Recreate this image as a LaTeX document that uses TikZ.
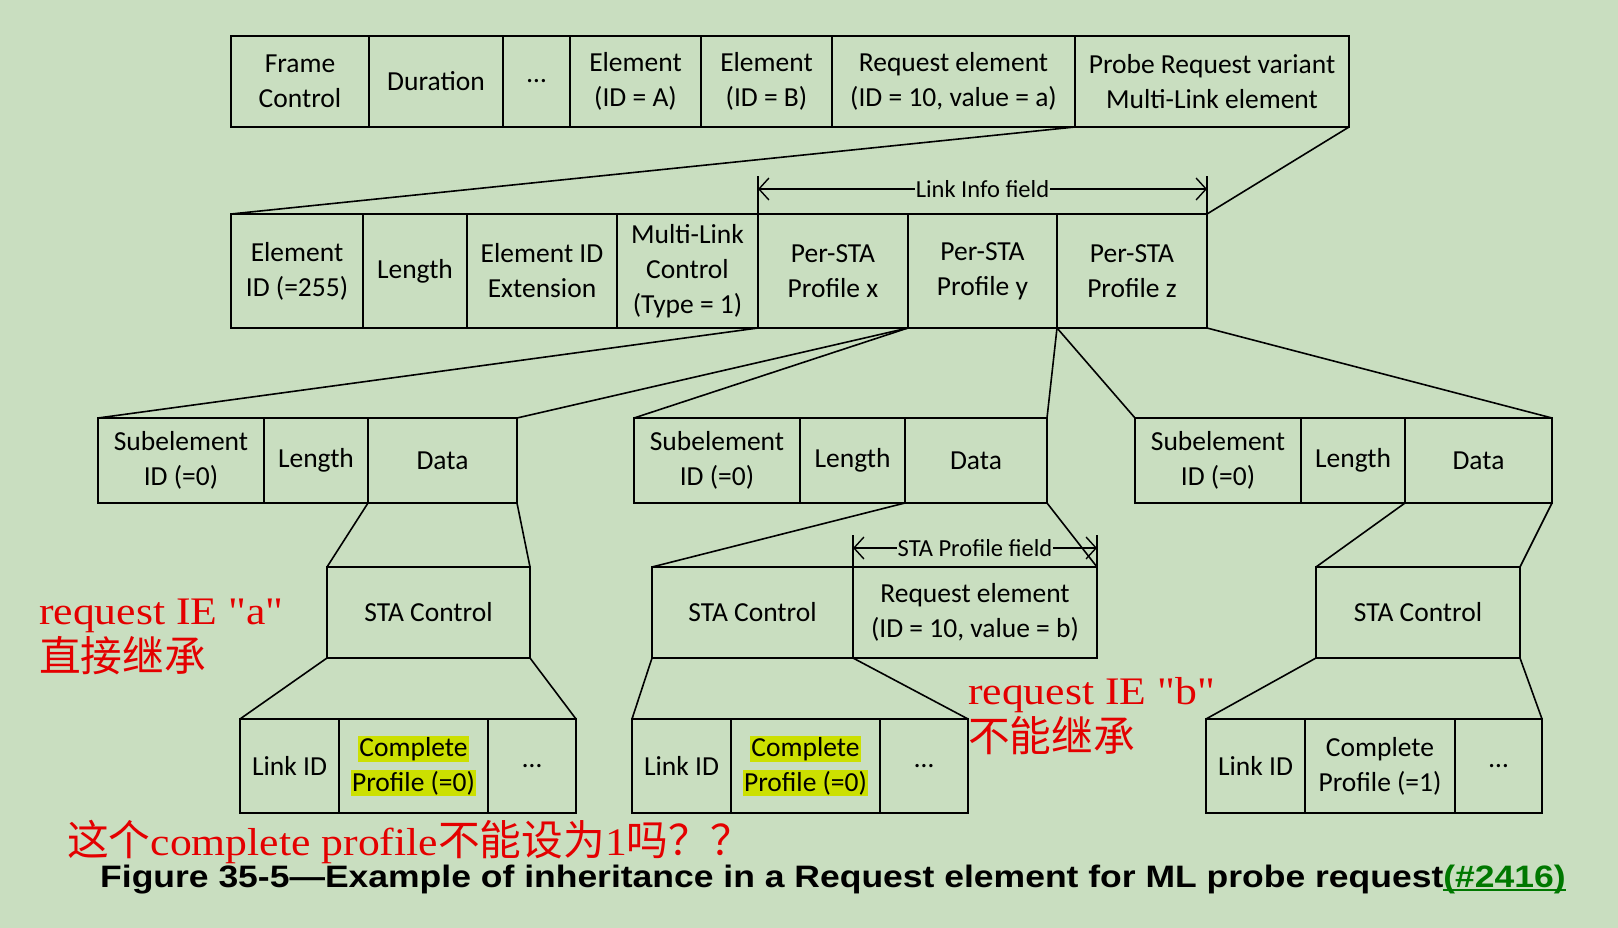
\documentclass[tikz,border=0pt]{standalone}
\usepackage{fontspec}
\usetikzlibrary{positioning,arrows.meta}
\setmainfont{Carlito}
\newfontfamily\notefont[FakeStretch=1.12]{Liberation Serif}
\newfontfamily\cjk[Scale=1.07]{Noto Sans CJK SC}
\newfontfamily\capfont[FakeStretch=1.145]{Liberation Sans}
\definecolor{screengreen}{RGB}{201,222,192}
\definecolor{markyellow}{RGB}{204,224,0}
\definecolor{notered}{RGB}{228,0,0}
\definecolor{refgreen}{RGB}{0,120,0}
\setlength{\fboxsep}{1pt}
\newcommand{\hlbox}[1]{\colorbox{markyellow}{#1}}
\newsavebox{\ulbox}
\newcommand{\ulgreen}[1]{\sbox\ulbox{#1}\rlap{\rule[-4.2pt]{\wd\ulbox}{2.4pt}}\usebox\ulbox}
\tikzstyle{fld} = [
  draw,
  line width=1.6pt,
  outer sep=0pt,
  inner sep=0pt,
  align=center,
  font=\fontsize{27.5}{35}\selectfont,
]
\tikzstyle{toprow} = [fld, minimum height=91pt]
\tikzstyle{mlrow} = [fld, minimum height=114pt]
\tikzstyle{subrow} = [fld, minimum height=85pt]
\tikzstyle{starow} = [fld, minimum height=91pt]
\tikzstyle{linkrow} = [fld, minimum height=94pt]
\tikzstyle{link} = [line width=1.6pt]
\tikzstyle{spanarrow} = [
  line width=1.4pt,
  {Straight Barb[length=10pt,width=22pt]}-{Straight Barb[length=10pt,width=22pt]},
]
\tikzstyle{spanlabel} = [fill=screengreen, inner sep=1pt, font=\fontsize{24.5}{28}\selectfont]
\tikzstyle{note} = [text=notered, inner sep=0pt, align=left, font=\fontsize{39}{47}\notefont]

\begin{document}
\begin{tikzpicture}[x=1pt, y=-1pt]
  \fill[screengreen] (0,0) rectangle (1618,928);
  \useasboundingbox (0,0) rectangle (1618,928);

  % Probe request frame
  \node[toprow, minimum width=138pt, anchor=north west] (fc) at (231,36) {Frame\\Control};
  \node[toprow, minimum width=134pt, right=0pt of fc] (dur) {Duration};
  \node[toprow, minimum width=67pt, right=0pt of dur] (tdots) {…};
  \node[toprow, minimum width=131pt, right=0pt of tdots] (elA) {Element\\(ID = A)};
  \node[toprow, minimum width=131pt, right=0pt of elA] (elB) {Element\\(ID = B)};
  \node[toprow, minimum width=243pt, right=0pt of elB] (reqa) {Request element\\(ID = 10, value = a)};
  \node[toprow, minimum width=274pt, right=0pt of reqa] (mle) {Probe Request variant\\Multi-Link element};

  % Multi-Link element
  \node[mlrow, minimum width=132pt, anchor=north west] (eid) at (231,214) {Element\\ID (=255)};
  \node[mlrow, minimum width=104pt, right=0pt of eid] (elen) {Length};
  \node[mlrow, minimum width=150pt, right=0pt of elen] (eidx) {Element ID\\Extension};
  \node[mlrow, minimum width=141pt, right=0pt of eidx] (mlc) {Multi-Link\\Control\\(Type = 1)};
  \node[mlrow, minimum width=150pt, right=0pt of mlc] (psx) {Per-STA\\Profile x};
  \node[mlrow, minimum width=149pt, right=0pt of psx] (psy) {Per-STA\\Profile y};
  \node[mlrow, minimum width=150pt, right=0pt of psy] (psz) {Per-STA\\Profile z};

  % Link Info field
  \draw[link] (psx.north west) -- ++(0pt,38pt);
  \draw[link] (psz.north east) -- ++(0pt,38pt);
  \draw[spanarrow] ([yshift=25pt]psx.north west) -- node[spanlabel] {Link Info field} ([yshift=25pt]psz.north east);

  % Per-STA profiles
  \node[subrow, minimum width=166pt, anchor=north west] (subx) at (98,418) {Subelement\\ID (=0)};
  \node[subrow, minimum width=104pt, right=0pt of subx] (lenx) {Length};
  \node[subrow, minimum width=149pt, right=0pt of lenx] (datx) {Data};

  \node[subrow, minimum width=166pt, anchor=north west] (suby) at (634,418) {Subelement\\ID (=0)};
  \node[subrow, minimum width=105pt, right=0pt of suby] (leny) {Length};
  \node[subrow, minimum width=142pt, right=0pt of leny] (daty) {Data};

  \node[subrow, minimum width=166pt, anchor=north west] (subz) at (1135,418) {Subelement\\ID (=0)};
  \node[subrow, minimum width=104pt, right=0pt of subz] (lenz) {Length};
  \node[subrow, minimum width=147pt, right=0pt of lenz] (datz) {Data};

  % STA Control
  \node[starow, minimum width=203pt, anchor=north west] (stcx) at (327,567) {STA Control};
  \node[starow, minimum width=201pt, anchor=north west] (stcy) at (652,567) {STA Control};
  \node[starow, minimum width=244pt, right=0pt of stcy] (reqb) {Request element\\(ID = 10, value = b)};
  \node[starow, minimum width=204pt, anchor=north west] (stcz) at (1316,567) {STA Control};

  % STA Profile field
  \draw[link] (stcy.north east) -- ++(0pt,32pt);
  \draw[link] (reqb.north east) -- ++(0pt,32pt);
  \draw[spanarrow] ([yshift=19pt]stcy.north east) -- node[spanlabel] {STA Profile field} ([yshift=19pt]reqb.north east);

  % STA Control fields
  \node[linkrow, minimum width=99pt, anchor=north west] (lidx) at (240,719) {Link ID};
  \node[linkrow, minimum width=149pt, right=0pt of lidx] (cpx) {\hlbox{Complete}\\\hlbox{Profile (=0)}};
  \node[linkrow, minimum width=88pt, right=0pt of cpx] (dotx) {…};

  \node[linkrow, minimum width=99pt, anchor=north west] (lidy) at (632,719) {Link ID};
  \node[linkrow, minimum width=149pt, right=0pt of lidy] (cpy) {\hlbox{Complete}\\\hlbox{Profile (=0)}};
  \node[linkrow, minimum width=88pt, right=0pt of cpy] (doty) {…};

  \node[linkrow, minimum width=99pt, anchor=north west] (lidz) at (1206,719) {Link ID};
  \node[linkrow, minimum width=150pt, right=0pt of lidz] (cpz) {Complete\\Profile (=1)};
  \node[linkrow, minimum width=87pt, right=0pt of cpz] (dotz) {…};

  % Expansion lines
  \draw[link] (mle.south west) -- (eid.north west);
  \draw[link] (mle.south east) -- (psz.north east);

  \draw[link] (psx.south west) -- (subx.north west);
  \draw[link] (psx.south east) -- (datx.north east);
  \draw[link] (psy.south west) -- (suby.north west);
  \draw[link] (psy.south east) -- (daty.north east);
  \draw[link] (psz.south west) -- (subz.north west);
  \draw[link] (psz.south east) -- (datz.north east);

  \draw[link] (datx.south west) -- (stcx.north west);
  \draw[link] (datx.south east) -- (stcx.north east);
  \draw[link] (daty.south west) -- (stcy.north west);
  \draw[link] (daty.south east) -- (reqb.north east);
  \draw[link] (datz.south west) -- (stcz.north west);
  \draw[link] (datz.south east) -- (stcz.north east);

  \draw[link] (stcx.south west) -- (lidx.north west);
  \draw[link] (stcx.south east) -- (dotx.north east);
  \draw[link] (stcy.south west) -- (lidy.north west);
  \draw[link] (stcy.south east) -- (doty.north east);
  \draw[link] (stcz.south west) -- (lidz.north west);
  \draw[link] (stcz.south east) -- (dotz.north east);

  % Caption
  \node[anchor=base west, inner sep=0pt, font=\fontsize{31}{36}\capfont\bfseries] (caption) at (100,887)
    {Figure 35-5—Example of inheritance in a Request element for ML probe request{\color{refgreen}\ulgreen{(\#2416)}}};

  % Notes
  \node[note, anchor=north west] (notea) at (39,599) {request IE "a"\\{\cjk 直接继承}};
  \node[note, anchor=north west] (noteb) at (968,677) {request IE "b"\\{\cjk 不能继承}};
  \node[note, anchor=base west] (notec) at (67,855) {{\cjk 这个}complete profile{\cjk 不能设为}1{\cjk 吗？？}};
\end{tikzpicture}
\end{document}
